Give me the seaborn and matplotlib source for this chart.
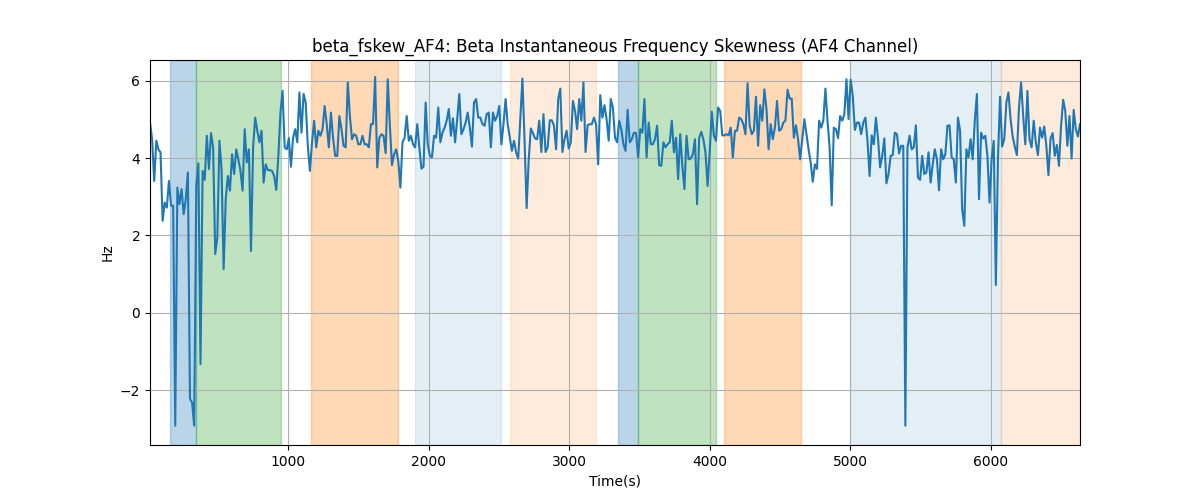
import numpy as np
import pandas as pd
import matplotlib
matplotlib.use("Agg")
import matplotlib.pyplot as plt
import seaborn as sns

values = [
    # segment 1
    4.92, 4.49, 3.41, 4.45, 4.23, 4.15, 2.38, 2.85, 2.72, 3.41, 2.77, 2.77, -2.92, 3.24, 2.81, 3.2, 2.55, 2.94,
    3.63, -2.23, -2.32, -2.92, 3.28, 3.87, -1.33, 3.67, 3.44, 4.58, 3.72, 4.65, 4.28, 1.52, 1.95, 4.45, 3.72,
    1.13, 2.94, 3.54, 3.16, 4.1, 3.59, 4.23, 3.97, 3.67, 3.16, 4.75, 3.89, 4.23, 1.6, 4.28, 5.05, 4.71, 4.41,
    4.71, 3.37,
    # segment 2
    3.84, 3.69, 3.69, 3.67, 3.54, 3.18, 4.06, 5.18, 5.74, 4.28, 4.23, 4.52, 3.78, 4.53, 4.75, 4.41, 5.7, 4.66,
    5.66, 5.44, 4.32, 3.67, 4.41, 4.97, 4.28, 4.71, 4.58, 4.75, 5.35, 4.88, 4.28, 5.18, 4.53, 4.06, 4.06, 5.09,
    4.75, 4.32, 4.28, 5.96, 5.09, 4.49, 4.62, 4.58, 4.36, 4.36, 4.58, 4.36, 4.36, 4.28, 4.88, 4.88, 6.1, 3.76,
    4.53, 4.62,
    # segment 3
    4.58, 4.13, 6.04, 4.84, 3.82, 4.1, 4.23, 3.93, 3.24, 4.41, 4.53, 5.09, 4.45, 4.58, 4.36, 4.28, 4.88, 4.28,
    3.73, 3.78, 5.44, 4.36, 4.06, 4.02, 4.58, 4.53, 5.31, 4.41, 4.66, 4.79, 4.97, 5.27, 4.58, 5.03, 4.41, 5.01,
    5.66, 4.62, 4.75, 4.92, 5.18, 4.79, 4.3, 5.44, 5.53, 5.05, 5.05, 4.88, 4.84, 5.14, 5.18, 4.28, 5.18, 4.97,
    5.09, 5.35,
    # segment 4
    4.36, 4.88, 5.53, 4.88, 4.53, 4.19, 4.45, 4.15, 3.99, 5.05, 6.06, 4.49, 2.71, 3.97, 4.77, 4.65, 4.51, 4.49,
    4.97, 4.16, 5.14, 4.16, 4.28, 4.98, 4.98, 4.84, 4.23, 5.53, 5.8, 4.16, 4.49, 4.71, 4.25, 4.41, 5.48, 5.22,
    4.75, 5.53, 4.97, 5.96, 4.16, 4.85, 4.88, 4.88, 5.05, 4.88, 3.84, 5.63, 5.05, 5.37, 5.01, 4.45, 5.53, 5.31,
    4.53,
    # segment 5
    4.41, 4.97, 4.75, 4.36, 4.19, 5.25, 4.41, 4.49, 4.66, 4.65, 4.02, 4.75, 4.66, 5.53, 4.02, 4.92, 4.36, 4.36,
    4.49, 4.84, 3.82, 3.8, 4.41, 4.28, 4.36, 4.41, 4.97, 4.15, 4.53, 3.46, 4.62, 3.8, 3.2, 4.58, 3.97, 3.99,
    4.1, 4.49, 2.81, 4.53, 4.68, 4.49, 4.15, 3.28, 4.15, 5.2, 4.58, 4.45, 5.31, 5.22, 4.59, 4.59, 4.62, 4.59,
    4.79, 4.02,
    # segment 6
    4.71, 4.71, 5.05, 5.01, 4.88, 4.62, 5.94, 4.84, 4.62, 4.71, 5.59, 4.32, 5.37, 4.97, 5.78, 5.27, 4.23, 4.88,
    4.49, 4.79, 5.48, 4.71, 4.75, 4.92, 4.97, 5.77, 5.54, 5.54, 4.53, 4.85, 4.49, 3.97, 4.49, 5.01, 4.62, 4.23,
    3.89, 3.39, 3.84, 3.72, 4.97, 4.79, 4.97, 5.8, 4.97, 4.28, 2.78, 4.79, 4.75, 4.52, 5.09, 4.97, 5.14, 6.04,
    5.01, 6.03,
    # segment 7
    5.61, 4.73, 4.92, 4.92, 4.62, 4.92, 5.05, 4.45, 3.54, 4.59, 4.36, 5.05, 4.51, 3.76, 4.06, 4.51, 3.35, 3.59,
    4.06, 4.08, 4.66, 4.62, 4.12, 4.32, 4.32, -2.92, 4.28, 4.58, 4.23, 4.28, 4.85, 3.5, 3.44, 4.06, 3.59, 3.63,
    4.15, 3.37, 3.84, 4.23, 3.97, 3.17, 4.23, 3.97, 4.1, 4.84, 4.85, 4.02, 3.97, 3.37, 5.05, 4.71, 2.68, 2.25,
    4.23, 4.02,
    # segment 8
    4.49, 3.97, 4.97, 5.66, 2.94, 4.66, 4.51, 4.58, 4.06, 2.85, 3.97, 4.45, 0.72, 3.97, 5.59, 4.3, 4.49, 5.44,
    5.7, 5.01, 4.56, 4.3, 4.08, 5.31, 5.96, 5.09, 4.36, 5.74, 4.49, 4.28, 4.97, 4.41, 4.08, 4.79, 4.53, 4.82,
    4.32, 3.56, 4.51, 4.65, 4.06, 4.34, 3.8, 4.84, 5.51, 5.22, 4.32, 5.09, 3.99, 5.25, 4.75, 4.56, 4.88,
]

t_start = 19
t_end = 6633
y_limits = [-3.42, 6.54]

span_starts = [160, 346, 1164, 1904, 2579, 3347, 3490, 4101, 4999, 6072]
span_ends = [346, 951, 1783, 2515, 3191, 3490, 4045, 4649, 6072, 6633]
span_colors = ["tab:blue", "tab:green", "tab:orange", "tab:blue", "tab:orange",
               "tab:blue", "tab:green", "tab:orange", "tab:blue", "tab:orange"]
span_alphas = [0.3, 0.3, 0.3, 0.12, 0.15, 0.3, 0.3, 0.3, 0.12, 0.15]

times = np.linspace(t_start, t_end, len(values))
df = pd.DataFrame({"Time(s)": times, "Hz": values})

fig, ax = plt.subplots(figsize=(12, 5), dpi=100)
fig.subplots_adjust(left=0.125, right=0.9, top=0.88, bottom=0.11)

for s, e, c, a in zip(span_starts, span_ends, span_colors, span_alphas):
    ax.axvspan(s, e, color=c, alpha=a)

sns.lineplot(data=df, x="Time(s)", y="Hz", ax=ax, color="tab:blue", linewidth=1.5)

ax.set_xlim(t_start, t_end)
ax.set_ylim(*y_limits)
ax.grid(True)
ax.set_title("beta_fskew_AF4: Beta Instantaneous Frequency Skewness (AF4 Channel)")
ax.set_xlabel("Time(s)")
ax.set_ylabel("Hz")

fig.savefig("out.png", dpi=100)
